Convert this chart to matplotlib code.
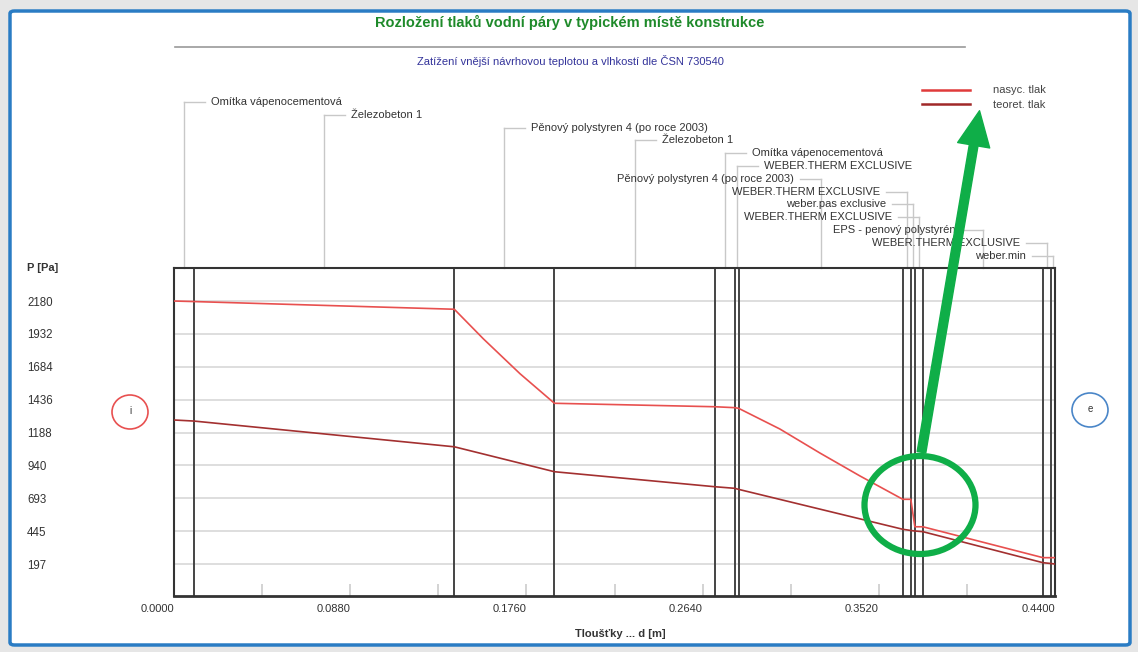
import matplotlib
matplotlib.use("Agg")
import matplotlib.pyplot as plt
import matplotlib.patches as mpatches
import matplotlib.transforms as mtransforms
from matplotlib.lines import Line2D

plt.rcParams['font.family'] = ['Liberation Sans', 'DejaVu Sans']

# vrstvy konstrukce (hranice v m)
hranice = [0.0, 0.010, 0.140, 0.190, 0.270, 0.280, 0.282, 0.364, 0.368, 0.370, 0.374, 0.434, 0.438, 0.440]
vrstvy = ["Omítka vápenocementová", "Železobeton 1", "Pěnový polystyren 4 (po roce 2003)",
          "Železobeton 1", "Omítka vápenocementová", "WEBER.THERM EXCLUSIVE",
          "Pěnový polystyren 4 (po roce 2003)", "WEBER.THERM EXCLUSIVE", "weber.pas exclusive",
          "WEBER.THERM EXCLUSIVE", "EPS - penový polystyrén", "WEBER.THERM EXCLUSIVE", "weber.min"]

# nasycený tlak
d_nas = [0.0, 0.010, 0.140, 0.1545, 0.1728, 0.190, 0.270, 0.280, 0.282, 0.3026, 0.3226, 0.3426,
         0.364, 0.368, 0.370, 0.374, 0.434, 0.438, 0.440]
p_nas = [2180, 2176, 2118, 1895, 1632, 1409, 1383, 1376, 1371, 1215, 1034, 861,
         685, 685, 478, 478, 245, 245, 245]

# teoretický tlak
d_teo = [0.0, 0.010, 0.140, 0.190, 0.270, 0.280, 0.282, 0.364, 0.368, 0.370, 0.374, 0.434, 0.438, 0.440]
p_teo = [1283, 1275, 1081, 893, 780, 768, 760, 459, 450, 446, 441, 207, 201, 197]

y_ticks = [197, 445, 693, 940, 1188, 1436, 1684, 1932, 2180]
x_ticks = [0.0, 0.088, 0.176, 0.264, 0.352, 0.440]

W, H = 1138, 652
fig = plt.figure(figsize=(W / 100, H / 100), dpi=100)

def fx(px):
    return px / W

def fy(py):
    return 1 - py / H

# ramecek okna
fig.patches.append(mpatches.Rectangle((0, 0), 1, 1, transform=fig.transFigure,
                                      facecolor='#e6e6e6', edgecolor='none', zorder=-3))
fig.patches.append(mpatches.FancyBboxPatch((fx(10), fy(645)), fx(1120), fy(11) - fy(645),
                                           boxstyle="round,pad=0,rounding_size=0.004",
                                           transform=fig.transFigure, facecolor='white',
                                           edgecolor='#2a7cc4', linewidth=2.5, zorder=-2))

ax = fig.add_axes([fx(174), fy(596), fx(1055) - fx(174), fy(268) - fy(596)])
ax.set_zorder(1)

ax.plot(d_nas, p_nas, color='#e8504f', lw=1.2, zorder=3)
ax.plot(d_teo, p_teo, color='#a33030', lw=1.2, zorder=3)

for b in hranice[1:-1]:
    ax.axvline(b, color='#444444', lw=1.4, zorder=2)

ax.set_xlim(0, 0.44)
ax.set_ylim(-44, 2429)
ax.set_yticks(y_ticks)
ax.set_yticklabels([str(v) for v in y_ticks])
ax.grid(axis='y', color='#d8d8d8', lw=1.2, zorder=1)
ax.tick_params(axis='y', length=0, pad=147 * 0.72, labelsize=8.3, labelcolor='#333333')
for lab in ax.get_yticklabels():
    lab.set_horizontalalignment('left')

ax.set_xticks(x_ticks)
ax.set_xticklabels(["%.4f" % v for v in x_ticks])
ax.set_xticks([0.044, 0.132, 0.220, 0.308, 0.396], minor=True)
ax.tick_params(axis='x', which='both', direction='in', length=9, color='#cccccc', width=1.2)
ax.tick_params(axis='x', which='major', pad=6, labelsize=8, labelcolor='#333333')
posun = mtransforms.ScaledTranslation(-0.17, 0, fig.dpi_scale_trans)
for lab in ax.get_xticklabels():
    lab.set_transform(lab.get_transform() + posun)

for s in ax.spines.values():
    s.set_color('#333333')
    s.set_linewidth(1.5)
ax.spines['bottom'].set_linewidth(2)

# popisky vrstev
trans = mtransforms.blended_transform_factory(ax.transData, fig.transFigure)
dx_h = 21 * 0.44 / 881
dx_t = 27 * 0.44 / 881
for i, jm in enumerate(vrstvy):
    xc = (hranice[i] + hranice[i + 1]) / 2
    yl = fy(102 + 12.8 * i)
    ax.plot([xc, xc], [yl, fy(268)], transform=trans, clip_on=False, color='#c8c8c8', lw=1, zorder=1)
    if i < 6:
        ax.plot([xc, xc + dx_h], [yl, yl], transform=trans, clip_on=False, color='#c8c8c8', lw=1)
        ax.text(xc + dx_t, yl, jm, transform=trans, ha='left', va='center', fontsize=8, color='#333333')
    else:
        ax.plot([xc, xc - dx_h], [yl, yl], transform=trans, clip_on=False, color='#c8c8c8', lw=1)
        ax.text(xc - dx_t, yl, jm, transform=trans, ha='right', va='center', fontsize=8, color='#333333')

# titulky
fig.text(fx(570), fy(22), "Rozložení tlaků vodní páry v typickém místě konstrukce",
         ha='center', va='center', fontsize=10.5, fontweight='bold', color='#1e8a2a')
fig.lines.append(Line2D([fx(175), fx(965)], [fy(47), fy(47)], transform=fig.transFigure,
                        color='#999999', lw=1.2))
fig.text(fx(570), fy(61), "Zatížení vnější návrhovou teplotou a vlhkostí dle ČSN 730540",
         ha='center', va='center', fontsize=8, color='#33339a')

fig.text(fx(27), fy(268), "P [Pa]", ha='left', va='center', fontsize=8, fontweight='bold', color='#333333')
fig.text(fx(620), fy(634), "Tloušťky ... d [m]", ha='center', va='center', fontsize=8,
         fontweight='bold', color='#333333')

# legenda
fig.lines.append(Line2D([fx(922), fx(970)], [fy(90), fy(90)], transform=fig.transFigure, color='#e03a3a', lw=1.8))
fig.lines.append(Line2D([fx(922), fx(970)], [fy(104), fy(104)], transform=fig.transFigure, color='#a02828', lw=1.8))
fig.text(fx(993), fy(90), "nasyc. tlak", ha='left', va='center', fontsize=8, color='#444444')
fig.text(fx(993), fy(105), "teoret. tlak", ha='left', va='center', fontsize=8, color='#444444')

# kolecka i / e
fig.patches.append(mpatches.Ellipse((fx(130), fy(412)), fx(36), fy(0) - fy(34), transform=fig.transFigure,
                                    facecolor='none', edgecolor='#e85050', lw=1.2))
fig.text(fx(130), fy(411), "i", ha='center', va='center', fontsize=7, color='#333333')
fig.patches.append(mpatches.Ellipse((fx(1090), fy(410)), fx(36), fy(0) - fy(34), transform=fig.transFigure,
                                    facecolor='none', edgecolor='#4a86c8', lw=1.2))
fig.text(fx(1090), fy(409), "e", ha='center', va='center', fontsize=7, color='#333333')

# zelene zvyrazneni
fig.patches.append(mpatches.Ellipse((fx(920), fy(505)), fx(111), fy(0) - fy(98), transform=fig.transFigure,
                                    facecolor='none', edgecolor='#0fae48', lw=4.5, zorder=10))
fig.add_artist(mpatches.FancyArrowPatch((921, H - 455), (980, H - 108), transform=None,
                                        arrowstyle='simple,head_length=1.4,head_width=1.3,tail_width=0.35',
                                        mutation_scale=18, color='#0fae48', zorder=10))

fig.savefig("out.png", dpi=100)
